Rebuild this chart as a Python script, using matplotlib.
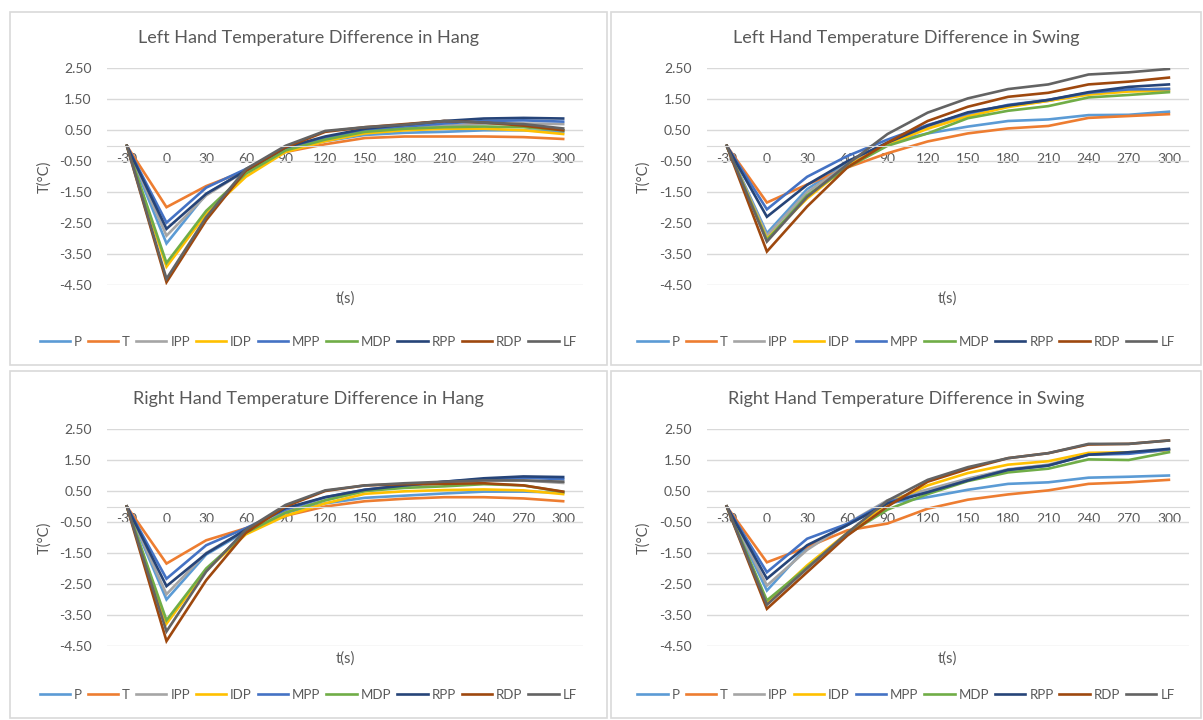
import matplotlib
matplotlib.use('Agg')
import matplotlib.pyplot as plt
from matplotlib.patches import Rectangle

# params
plt.rcParams['font.family'] = ['Lato', 'DejaVu Sans']
_W, _H = 1203, 720
_txtcolor = '#595959'
_gridcolor = '#D9D9D9'

# data
times = [-30, 0, 30, 60, 90, 120, 150, 180, 210, 240, 270, 300]
series_names = ['P', 'T', 'IPP', 'IDP', 'MPP', 'MDP', 'RPP', 'RDP', 'LF']
series_colors = ['#5B9BD5', '#ED7D31', '#A5A5A5', '#FFC000', '#4472C4',
                 '#70AD47', '#264478', '#9E480E', '#636363']
yticks = [2.5, 1.5, 0.5, -0.5, -1.5, -2.5, -3.5, -4.5]

left_hang = [
    [0, -3.15, -1.55, -0.80, -0.15, 0.15, 0.35, 0.42, 0.45, 0.50, 0.50, 0.45],
    [0, -1.98, -1.30, -0.80, -0.20, 0.05, 0.25, 0.30, 0.30, 0.30, 0.28, 0.22],
    [0, -2.90, -1.60, -0.80, -0.10, 0.25, 0.45, 0.55, 0.65, 0.70, 0.72, 0.70],
    [0, -3.90, -2.20, -1.00, -0.20, 0.15, 0.40, 0.50, 0.55, 0.55, 0.50, 0.38],
    [0, -2.48, -1.35, -0.75, -0.10, 0.25, 0.50, 0.62, 0.72, 0.80, 0.82, 0.78],
    [0, -3.78, -2.10, -0.90, -0.15, 0.20, 0.45, 0.55, 0.60, 0.62, 0.60, 0.50],
    [0, -2.68, -1.55, -0.80, -0.05, 0.30, 0.55, 0.68, 0.80, 0.88, 0.90, 0.88],
    [0, -4.40, -2.40, -0.80, -0.05, 0.45, 0.60, 0.70, 0.80, 0.75, 0.65, 0.50],
    [0, -4.29, -2.30, -0.75, 0.00, 0.48, 0.60, 0.68, 0.80, 0.75, 0.70, 0.56],
]
left_swing = [
    [0, -2.82, -1.40, -0.55, 0.10, 0.40, 0.62, 0.80, 0.85, 0.99, 1.00, 1.10],
    [0, -1.83, -1.25, -0.70, -0.24, 0.14, 0.40, 0.56, 0.64, 0.90, 0.96, 1.02],
    [0, -2.90, -1.50, -0.60, 0.10, 0.60, 1.00, 1.28, 1.45, 1.68, 1.80, 1.85],
    [0, -3.00, -1.70, -0.65, 0.05, 0.55, 0.95, 1.25, 1.45, 1.65, 1.75, 1.78],
    [0, -2.05, -1.00, -0.33, 0.20, 0.67, 1.05, 1.32, 1.48, 1.71, 1.82, 1.83],
    [0, -3.04, -1.60, -0.70, 0.00, 0.40, 0.89, 1.13, 1.28, 1.56, 1.64, 1.73],
    [0, -2.29, -1.26, -0.50, 0.10, 0.65, 1.08, 1.30, 1.48, 1.73, 1.90, 1.98],
    [0, -3.41, -1.96, -0.70, 0.10, 0.80, 1.26, 1.58, 1.71, 1.98, 2.07, 2.20],
    [0, -3.09, -1.65, -0.60, 0.38, 1.07, 1.53, 1.83, 1.98, 2.30, 2.37, 2.48],
]
right_hang = [
    [0, -3.00, -1.55, -0.80, -0.20, 0.10, 0.28, 0.35, 0.42, 0.48, 0.48, 0.45],
    [0, -1.84, -1.09, -0.70, -0.30, 0.00, 0.17, 0.25, 0.30, 0.30, 0.26, 0.17],
    [0, -2.83, -1.50, -0.75, -0.15, 0.20, 0.50, 0.65, 0.75, 0.85, 0.84, 0.76],
    [0, -3.78, -2.05, -0.90, -0.30, 0.10, 0.41, 0.49, 0.53, 0.55, 0.52, 0.40],
    [0, -2.33, -1.25, -0.70, -0.10, 0.30, 0.54, 0.68, 0.80, 0.88, 0.93, 0.88],
    [0, -3.67, -2.00, -0.85, -0.20, 0.20, 0.50, 0.60, 0.65, 0.72, 0.68, 0.47],
    [0, -2.57, -1.52, -0.75, -0.05, 0.30, 0.54, 0.68, 0.80, 0.91, 0.97, 0.95],
    [0, -4.34, -2.38, -0.85, 0.00, 0.50, 0.68, 0.72, 0.73, 0.75, 0.68, 0.48],
    [0, -4.03, -2.10, -0.75, 0.05, 0.52, 0.68, 0.75, 0.80, 0.84, 0.84, 0.80],
]
right_swing = [
    [0, -2.71, -1.30, -0.60, 0.10, 0.30, 0.54, 0.73, 0.78, 0.93, 0.96, 1.00],
    [0, -1.80, -1.31, -0.77, -0.55, -0.07, 0.22, 0.39, 0.52, 0.73, 0.78, 0.86],
    [0, -2.55, -1.40, -0.55, 0.20, 0.55, 0.90, 1.20, 1.35, 1.68, 1.72, 1.82],
    [0, -3.10, -1.90, -0.85, 0.10, 0.68, 1.08, 1.35, 1.46, 1.73, 1.75, 1.82],
    [0, -2.12, -1.04, -0.56, 0.15, 0.46, 0.84, 1.18, 1.32, 1.67, 1.70, 1.84],
    [0, -3.03, -1.96, -0.90, -0.10, 0.40, 0.82, 1.10, 1.22, 1.52, 1.50, 1.75],
    [0, -2.33, -1.25, -0.60, 0.10, 0.46, 0.84, 1.18, 1.32, 1.67, 1.75, 1.86],
    [0, -3.30, -2.12, -0.94, 0.00, 0.80, 1.21, 1.56, 1.72, 2.00, 2.02, 2.13],
    [0, -3.17, -2.00, -0.85, 0.19, 0.86, 1.27, 1.56, 1.72, 2.02, 2.02, 2.13],
]

titles = ['Left Hand Temperature Difference in Hang',
          'Left Hand Temperature Difference in Swing',
          'Right Hand Temperature Difference in Hang',
          'Right Hand Temperature Difference in Swing']
panel_data = [left_hang, left_swing, right_hang, right_swing]

# pixel layout: (panel box x0, y0, x1, y1), (plot x0, y0, x1, y1)
panel_boxes = [(9.5, 11.5, 607, 365), (611, 11.5, 1201, 365),
               (9.5, 371, 607, 718), (611, 371, 1201, 718)]
plot_boxes = [(107, 68.3, 583, 285.3), (706.6, 68.3, 1189, 285.3),
              (107, 429, 583, 646), (706.6, 429, 1189, 646)]


def fx(px):
    return px / _W


def fy(py):
    return 1 - py / _H


fig = plt.figure(figsize=(_W / 100, _H / 100), dpi=100)

for i in range(4):
    bx0, by0, bx1, by1 = panel_boxes[i]
    fig.patches.append(Rectangle((fx(bx0), fy(by1)), fx(bx1 - bx0), (by1 - by0) / _H,
                                 transform=fig.transFigure, fill=False,
                                 edgecolor=_gridcolor, linewidth=1.2))

    x0, y0, x1, y1 = plot_boxes[i]
    ax = fig.add_axes([fx(x0), fy(y1), fx(x1 - x0), (y1 - y0) / _H])
    cat = list(range(len(times)))
    lines = []
    for vals, name, col in zip(panel_data[i], series_names, series_colors):
        ln, = ax.plot(cat, vals, color=col, linewidth=1.9, label=name,
                      solid_joinstyle='miter')
        lines.append(ln)

    ax.set_xlim(-0.5, len(times) - 0.5)
    ax.set_ylim(-4.5, 2.5)
    ax.set_yticks(yticks)
    ax.set_yticklabels(['%.2f' % v for v in yticks])
    ax.set_xticks(cat)
    ax.set_xticklabels([str(t) for t in times])
    ax.yaxis.grid(True, color=_gridcolor, linewidth=1.0)
    ax.set_axisbelow(True)
    for s in ['top', 'right', 'left']:
        ax.spines[s].set_visible(False)
    ax.spines['bottom'].set_position(('data', 0))
    ax.spines['bottom'].set_color(_gridcolor)
    ax.tick_params(axis='both', length=0, labelsize=10, labelcolor=_txtcolor)
    ax.tick_params(axis='y', pad=11)
    ax.tick_params(axis='x', pad=5)

    fig.text(fx((bx0 + bx1) / 2), fy(y0 - 30), titles[i], ha='center', va='center',
             fontsize=13, color=_txtcolor)
    fig.text(fx((x0 + x1) / 2), fy(y1 + 13), 't(s)', ha='center', va='center',
             fontsize=10.5, color=_txtcolor)
    fig.text(fx(x0 - 63), fy((y0 + y1) / 2), 'T(°C)', ha='center', va='center',
             rotation=90, fontsize=10.5, color=_txtcolor)

    fig.legend(handles=lines, loc='center',
               bbox_to_anchor=(fx((bx0 + bx1) / 2), fy(by1 - 23)),
               ncol=9, frameon=False, fontsize=9.5, labelcolor=_txtcolor,
               handlelength=2.3, handletextpad=0.3, columnspacing=0.45,
               borderaxespad=0)

fig.savefig('out.png', dpi=100)
